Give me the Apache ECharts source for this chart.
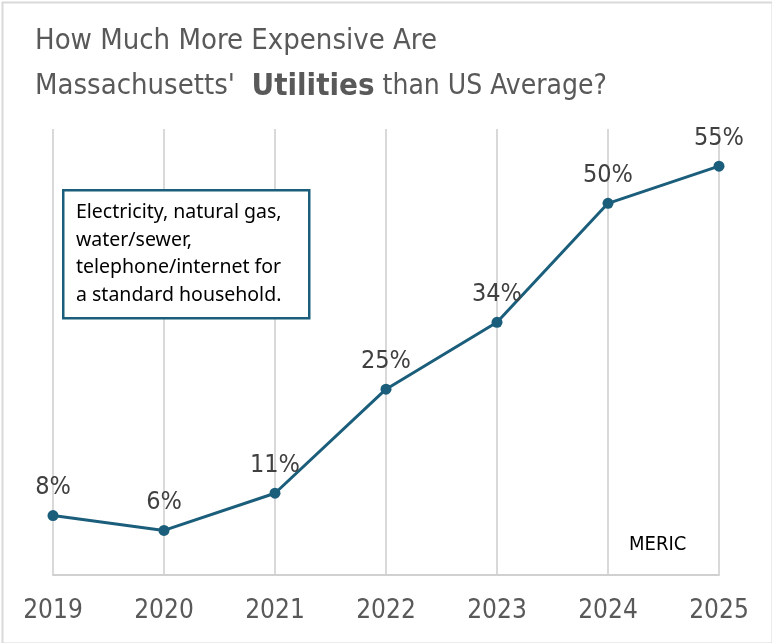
<!DOCTYPE html>
<html>
<head>
<meta charset="utf-8">
<script src="https://cdn.jsdelivr.net/npm/echarts@6/dist/echarts.min.js"></script>
<style>
html,body{margin:0;padding:0;background:#fff;}
#main{width:772px;height:643px;}
</style>
</head>
<body>
<div id="main"></div>
<script>
var years = ['2019','2020','2021','2022','2023','2024','2025'];
var premiumPct = [8, 6, 11, 25, 34, 50, 55];
var noteLines = ['Electricity, natural gas,', 'water/sewer,', 'telephone/internet for', 'a standard household.'];
var sourceText = 'MERIC';

var FONT = '"DejaVu Sans Condensed", "Liberation Sans", sans-serif';
var LINE = '#1b5e7b';

var chart = echarts.init(document.getElementById('main'));
chart.setOption({
  animation: false,
  backgroundColor: '#ffffff',
  title: {
    left: 30,
    top: 14,
    text: '{a|How Much More Expensive Are}\n{a|Massachusetts\'  }{b|Utilities}{c| than US Average?}',
    textStyle: {
      fontWeight: 'normal',
      rich: {
        a: { fontFamily: FONT, fontSize: 29, fontWeight: 'normal', color: '#595959', lineHeight: 45 },
        b: { fontFamily: FONT, fontSize: 31, fontWeight: 'bold', color: '#595959', lineHeight: 45 },
        c: { fontFamily: FONT, fontSize: 28, fontWeight: 'normal', color: '#595959', lineHeight: 45 }
      }
    }
  },
  grid: { left: 53, right: 53, top: 129, bottom: 68 },
  xAxis: {
    type: 'category',
    data: years,
    boundaryGap: false,
    axisLine: { show: true, lineStyle: { color: '#d0d0d0', width: 2 } },
    axisTick: { show: false },
    axisLabel: { fontFamily: FONT, fontSize: 26, color: '#595959', margin: 23 },
    splitLine: { show: true, lineStyle: { color: '#d9d9d9', width: 2 } }
  },
  yAxis: {
    type: 'value',
    min: 0,
    max: 60,
    interval: 10,
    show: false,
    splitLine: { show: false }
  },
  series: [{
    type: 'line',
    data: premiumPct,
    symbol: 'circle',
    symbolSize: 11,
    lineStyle: { color: LINE, width: 3 },
    itemStyle: { color: LINE },
    label: {
      show: true,
      position: 'top',
      distance: 10,
      fontFamily: FONT,
      fontSize: 25,
      color: '#404040',
      formatter: function (p) { return p.value + '%'; }
    }
  }],
  graphic: [
    {
      type: 'rect',
      left: 0, top: 0, z: -1,
      shape: { x: 1, y: 1, width: 770, height: 641 },
      style: { fill: 'none', stroke: '#d9d9d9', lineWidth: 2 }
    },
    {
      type: 'rect',
      left: 62, top: 189,
      shape: { width: 246, height: 128 },
      style: { fill: '#ffffff', stroke: LINE, lineWidth: 2.5 },
      z: 10
    },
    {
      type: 'text',
      left: 76, top: 199,
      z: 11,
      style: {
        text: noteLines.join('\n'),
        fontFamily: '"Noto Sans", "Liberation Sans", sans-serif',
        fontSize: 19.5,
        lineHeight: 27.5,
        fill: '#000000'
      }
    },
    {
      type: 'text',
      left: 629, top: 535,
      z: 11,
      style: {
        text: sourceText,
        fontFamily: FONT,
        fontSize: 20,
        fill: '#000000'
      }
    }
  ]
});
</script>
</body>
</html>
